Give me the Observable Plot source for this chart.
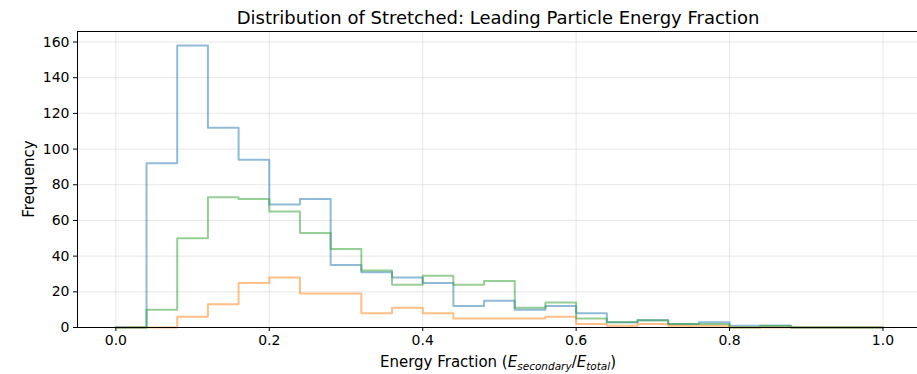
<!DOCTYPE html>
<html><head><meta charset="utf-8">
<script src="https://cdn.jsdelivr.net/npm/d3@7"></script>
<script src="https://cdn.jsdelivr.net/npm/@observablehq/plot@0.6"></script>
<style>body{margin:0;background:#fff;} #chart svg{display:block;}</style>
</head><body><div id="chart"></div>
<script>
const title = "Distribution of Stretched: Leading Particle Energy Fraction";
const yLabel = "Frequency";
const binEdges = [0.00,0.04,0.08,0.12,0.16,0.20,0.24,0.28,0.32,0.36,0.40,0.44,0.48,0.52,0.56,0.60,0.64,0.68,0.72,0.76,0.80,0.84,0.88,0.92,0.96,1.00];
const blueCounts   = [0,92,158,112,94,69,72,35,31,28,25,12,15,10,12,8,3,4,2,3,1,1,0,0,0];
const orangeCounts = [0,0,6,13,25,28,19,19,8,11,8,5,5,5,6,2,1,2,1,1,0,0,0,0,0];
const greenCounts  = [0,10,50,73,72,65,53,44,32,24,29,24,26,11,14,5,3,4,2,2,0,1,0,0,0];
const xTicks = [0.0,0.2,0.4,0.6,0.8,1.0];
const yTicks = [0,20,40,60,80,100,120,140,160];

function steps(counts){
  const n = binEdges.length - 1;
  const pts = [{x: binEdges[0], y: 0}];
  counts.forEach((c,i) => pts.push({x: binEdges[i], y: c}));
  pts.push({x: binEdges[n], y: counts[n-1]});
  pts.push({x: binEdges[n], y: 0});
  return pts;
}
const series = [
  {counts: blueCounts, color: "#1f77b4"},
  {counts: orangeCounts, color: "#ff7f0e"},
  {counts: greenCounts, color: "#2ca02c"}
];

const W = 917, H = 374, mL = 77, mT = 31, mB = 47, mR = 0;
const chart = Plot.plot({
  width: W, height: H,
  marginLeft: mL, marginTop: mT, marginBottom: mB, marginRight: mR,
  style: {fontFamily: "DejaVu Sans", fontSize: "14px", color: "black", background: "white"},
  x: {domain: [-0.05, 1.045]},
  y: {domain: [0, 165.9]},
  marks: [
    Plot.gridX(xTicks, {stroke: "#b0b0b0", strokeOpacity: 0.3, strokeWidth: 1}),
    Plot.gridY(yTicks, {stroke: "#b0b0b0", strokeOpacity: 0.3, strokeWidth: 1}),
    ...series.map(s => Plot.line(steps(s.counts), {x: "x", y: "y", curve: "step-after", stroke: s.color, strokeOpacity: 0.5, strokeWidth: 2})),
    Plot.axisX(xTicks, {tickFormat: d3.format(".1f"), tickSize: 4, tickPadding: 4, fontSize: 14, label: null}),
    Plot.axisY(yTicks, {tickSize: 4, tickPadding: 4, fontSize: 14, label: null}),
    Plot.frame({stroke: "black", strokeWidth: 1})
  ]
});
document.getElementById("chart").appendChild(chart);

const svg = d3.select(chart);
const cx = mL + (W - mL - mR) / 2 + 1;
svg.append("text").attr("x", cx).attr("y", 19).attr("text-anchor", "middle").attr("dominant-baseline", "middle")
  .attr("font-size", 18).attr("font-family", "DejaVu Sans").attr("fill", "black").text(title);
svg.append("text").attr("transform", `translate(29,${mT + (H - mT - mB)/2}) rotate(-90)`).attr("text-anchor", "middle")
  .attr("dominant-baseline", "middle").attr("font-size", 15).attr("font-family", "DejaVu Sans").attr("fill", "black").text(yLabel);
const xl = svg.append("text").attr("x", cx).attr("y", 367).attr("text-anchor", "middle")
  .attr("font-size", 15).attr("font-family", "DejaVu Sans").attr("fill", "black");
xl.append("tspan").text("Energy Fraction (");
xl.append("tspan").attr("font-style", "italic").text("E");
xl.append("tspan").attr("font-style", "italic").attr("font-size", 10.5).attr("dy", 3).text("secondary");
xl.append("tspan").attr("dy", -3).text("/");
xl.append("tspan").attr("font-style", "italic").text("E");
xl.append("tspan").attr("font-style", "italic").attr("font-size", 10.5).attr("dy", 3).text("total");
xl.append("tspan").attr("dy", -3).text(")");
</script>
</body></html>
